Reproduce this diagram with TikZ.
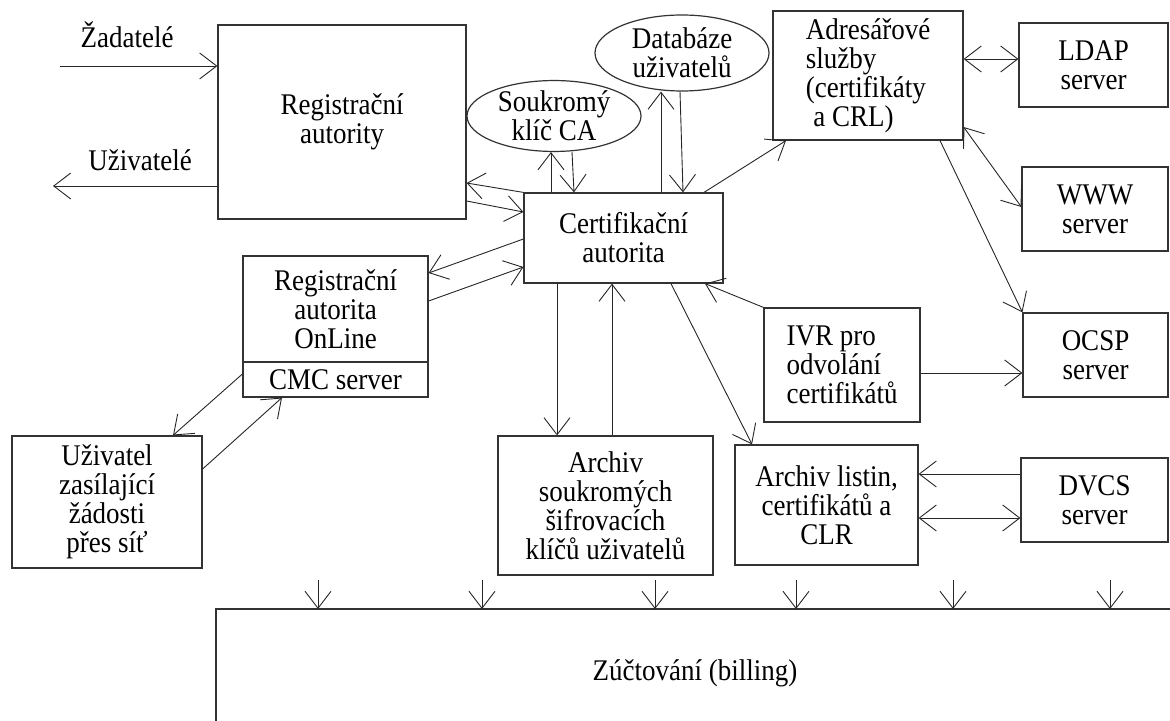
\documentclass[tikz,border=0pt]{standalone}
\usepackage{fontspec}
\setmainfont{Liberation Serif}[FakeStretch=0.9]
\usetikzlibrary{arrows.meta,shapes.geometric}

\begin{document}
\begin{tikzpicture}
  [x=0.5pt,y=-0.5pt,
   every node/.style={font=\fontsize{15}{14.5}\selectfont,inner sep=0pt,align=center},
   box/.style={draw=black!80,line width=0.6pt,rectangle},
   oval/.style={draw=black!80,line width=0.6pt,ellipse},
   arr/.style={draw=black!85,line width=0.45pt,-{Straight Barb[length=8.5pt,width=13pt]}},
   darr/.style={arr,{Straight Barb[length=8.5pt,width=13pt]}-{Straight Barb[length=8.5pt,width=13pt]}}]
  \useasboundingbox (0,0) rectangle (1170,721);

  % boxes
  \node[box,minimum width=124pt,minimum height=97pt] (ra) at (342,122) {Registrační\\autority};
  \node[box,minimum width=99.5pt,minimum height=45pt] (ca) at (623.5,238) {Certifikační\\autorita};
  \node[oval,minimum width=87pt,minimum height=33pt] (soukr) at (554,116) {Soukromý\\klíč CA};
  \node[oval,minimum width=87pt,minimum height=38pt] (db) at (682,53) {Databáze\\uživatelů};
  \node[box,minimum width=95pt,minimum height=64.5pt,align=left] (adr) at (868,75.5)
    {Adresářové\\služby\\(certifikáty\\\hspace*{0.25em}a CRL)};
  \node[box,minimum width=74.5pt,minimum height=42pt] (ldap) at (1093.5,65) {LDAP\\server};
  \node[box,minimum width=73pt,minimum height=42pt] (www) at (1095,209) {WWW\\server};
  \node[box,minimum width=72.5pt,minimum height=42pt] (ocsp) at (1095.5,355) {OCSP\\server};
  \node[box,minimum width=78pt,minimum height=57pt,align=left] (ivr) at (842,365)
    {IVR pro\\odvolání\\certifikátů};
  \node[box,minimum width=73.5pt,minimum height=42pt] (dvcs) at (1094.5,500) {DVCS\\server};
  \node[box,minimum width=91.5pt,minimum height=60pt] (arl) at (826.5,505)
    {Archiv listin,\\certifikátů a\\CLR};
  \node[box,minimum width=107.5pt,minimum height=69.5pt] (ars) at (605.5,505.5)
    {Archiv\\soukromých\\šifrovacích\\klíčů uživatelů};
  \node[box,minimum width=92.5pt,minimum height=53pt] (raon) at (335.5,309)
    {Registrační\\autorita\\OnLine};
  \node[box,minimum width=92.5pt,minimum height=17.5pt] (cmc) at (335.5,379.5) {CMC server};
  \node[box,minimum width=95pt,minimum height=66pt] (uziv) at (107,502)
    {Uživatel\\zasílající\\žádosti\\přes síť};

  % labels of the outer flows
  \node (zad) at (127,35) {Žadatelé};
  \node (uzl) at (140,160) {Uživatelé};
  \coordinate (zin) at (60,66);
  \coordinate (uout) at (53,186);

  % billing
  \draw[draw=black!80,line width=0.6pt] (1170,609) -| (216,721);
  \node (bill) at (695,673) {Zúčtování (billing)};

  % connectors
  \draw[arr] (zin) -- (zin -| ra.west);
  \draw[arr] (uout -| ra.west) -- (uout);
  \draw[arr] (ca.north west) -- (ra.east |- 0,183);
  \draw[arr] (ra.east |- 0,201) -- (ca.west |- 0,212);
  \draw[arr] (ca.west |- 0,239) -- (raon.east |- 0,273);
  \draw[arr] (raon.east |- 0,301) -- (ca.west |- 0,267);
  \draw[arr] (ca.north -| 551,0) -- (soukr.south -| 551,0);
  \draw[arr] (soukr.south -| 572,0) -- (ca.north -| 574,0);
  \draw[arr] (ca.north -| 661,0) -- (db.south -| 661,0);
  \draw[arr] (db.south -| 680,0) -- (ca.north -| 683,0);
  \draw[arr] (ca.north -| 704,0) -- (adr.south -| 786,0);
  \draw[darr] (adr.east |- 0,59) -- (ldap.west |- 0,59);
  \draw[darr] (adr.east |- 0,127) -- (www.west |- 0,207);
  \draw[arr] (adr.south -| 940,0) -- (ocsp.north west);
  \draw[arr] (ivr.north west) -- (ca.south -| 705,0);
  \draw[arr] (ivr.east |- 0,373) -- (ocsp.west |- 0,373);
  \draw[arr] (ca.south -| 557,0) -- (ars.north -| 557,0);
  \draw[arr] (ars.north -| 612,0) -- (ca.south -| 612,0);
  \draw[arr] (ca.south -| 671,0) -- (arl.north -| 752,0);
  \draw[arr] (dvcs.west |- 0,474) -- (arl.east |- 0,474);
  \draw[darr] (arl.east |- 0,518) -- (dvcs.west |- 0,518);
  \draw[arr] (cmc.west |- 0,374) -- (uziv.north -| 173,0);
  \draw[arr] (uziv.east |- 0,469) -- (cmc.south -| 282,0);

  \foreach \x in {318,482,655,796,953,1110}
    \draw[arr] (\x,580) -- (\x,609);

\end{tikzpicture}
\end{document}
